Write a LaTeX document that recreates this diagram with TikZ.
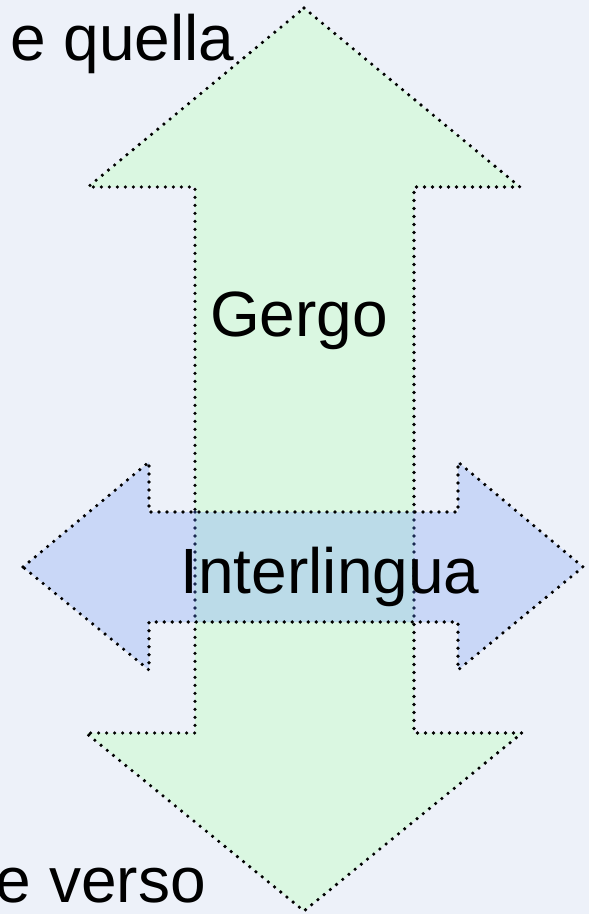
\documentclass[tikz,border=0pt]{standalone}
\usepackage{fontspec}
\setmainfont{Liberation Sans}
\definecolor{bgc}{RGB}{237,241,249}
\definecolor{greenc}{RGB}{218,247,225}
\definecolor{bluec}{RGB}{201,215,247}
\definecolor{overc}{RGB}{187,219,232}
\definecolor{navyc}{RGB}{25,40,80}
\tikzset{
  dotline/.style={line width=3.6pt, line cap=round, dash pattern=on 0pt off 8pt},
  bigtext/.style={inner sep=0pt, font=\fontsize{64}{70}\selectfont},
}
\begin{document}
\begin{tikzpicture}[x=1pt,y=-1pt]
\useasboundingbox (0,0) rectangle (589,914);
\fill[bgc] (0,0) rectangle (589,914);
% vertical double arrow
\path[fill=greenc, draw=black, dotline]
  (304,8) -- (520,187) -- (414,187) -- (414,733) -- (522,733) -- (304,911)
  -- (86,733) -- (195,733) -- (195,187) -- (88,187) -- cycle;
% horizontal double arrow
\fill[bluec]
  (23,567) -- (149,462) -- (149,512) -- (458,512) -- (458,462) -- (583,567)
  -- (458,670) -- (458,622) -- (149,622) -- (149,670) -- cycle;
\fill[overc] (195,512) rectangle (414,622);
\draw[navyc, dotline] (195,512) -- (195,622);
\draw[navyc, dotline] (414,512) -- (414,622);
\draw[black, dotline]
  (23,567) -- (149,462) -- (149,512) -- (458,512) -- (458,462) -- (583,567)
  -- (458,670) -- (458,622) -- (149,622) -- (149,670) -- cycle;
% texts
\node[bigtext, anchor=base west] (quella) at (10,60) {e quella};
\node[bigtext, anchor=base east] (verso) at (206,902) {e verso};
\node[bigtext, anchor=base] (gergo) at (299,336) {Gergo};
\node[bigtext, anchor=base] (inter) at (330,593) {Interlingua};
\end{tikzpicture}
\end{document}
